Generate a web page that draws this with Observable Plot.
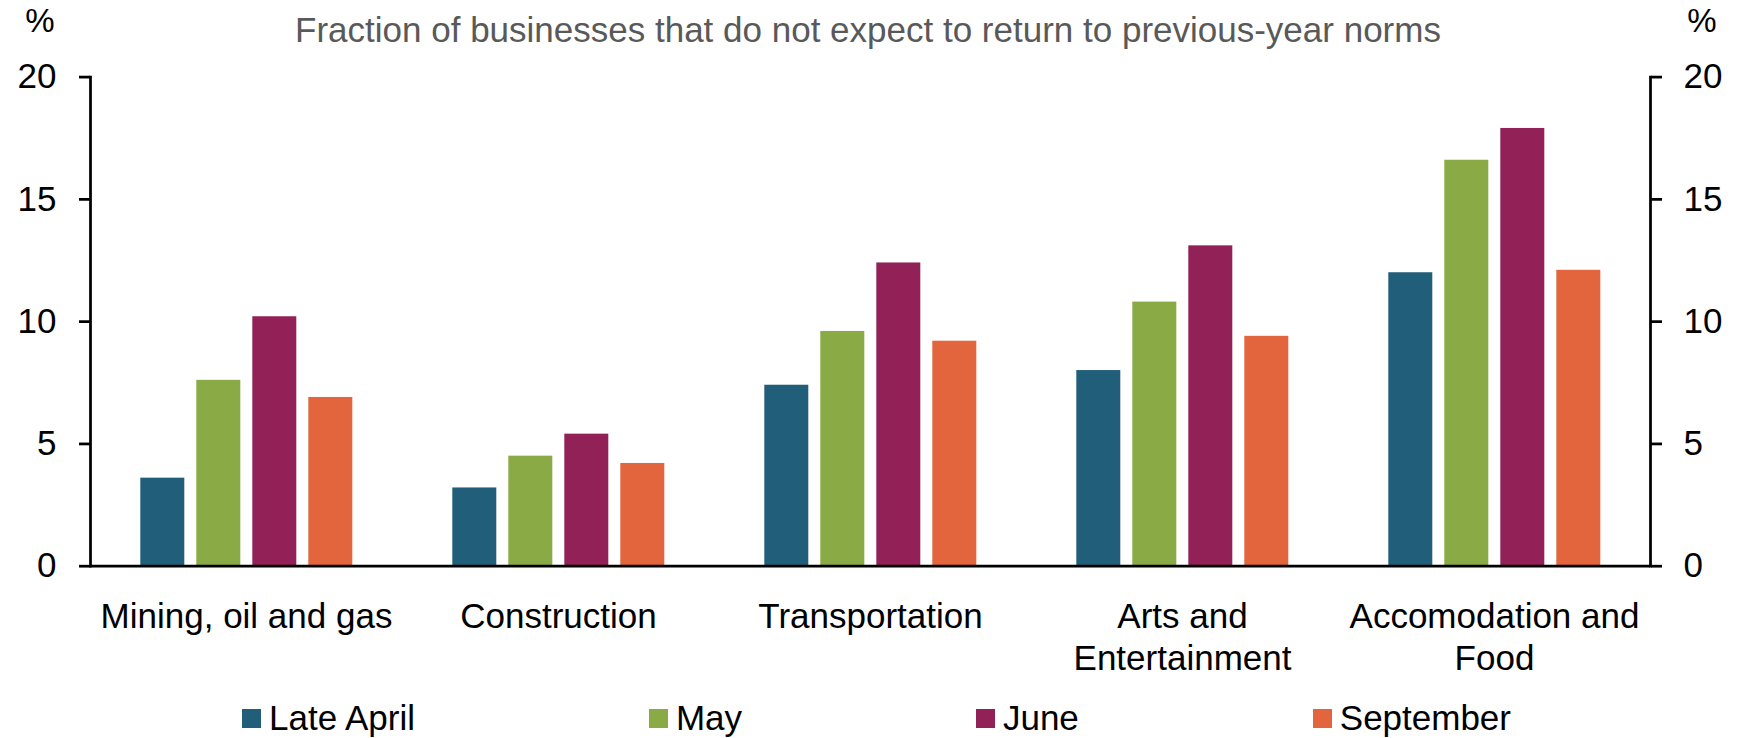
<!DOCTYPE html>
<html><head><meta charset="utf-8">
<script src="https://cdn.jsdelivr.net/npm/d3@7"></script>
<script src="https://cdn.jsdelivr.net/npm/@observablehq/plot@0.6"></script>
<style>
html,body{margin:0;padding:0;background:#fff;}
#wrap{position:relative;width:1743px;height:738px;overflow:hidden;font-family:"Liberation Sans",Arial,sans-serif;}
#title{position:absolute;left:0;width:1736px;top:12px;text-align:center;font-size:35px;line-height:35px;color:#595959;white-space:nowrap;}
.pct{position:absolute;top:4px;font-size:33px;line-height:33px;width:60px;text-align:center;color:#000;}
#chart{position:absolute;left:0;top:0;}
#legend{position:absolute;left:242px;width:1269px;top:701px;height:34px;display:flex;justify-content:space-between;}
.item{display:flex;align-items:center;font-size:35px;line-height:34px;color:#000;white-space:nowrap;}
.sw{width:19px;height:19px;margin-right:8px;flex:none;}
</style></head>
<body>
<div id="wrap">
  <div id="chart"></div>
  <div id="title"></div>
  <div class="pct" id="pctL" style="left:10px"></div>
  <div class="pct" id="pctR" style="left:1672px"></div>
  <div id="legend"></div>
</div>
<script>
const categories = ["Mining, oil and gas", "Construction", "Transportation", "Arts and Entertainment", "Accomodation and Food"];
const categoryLabels = ["Mining, oil and gas", "Construction", "Transportation", "Arts and\nEntertainment", "Accomodation and\nFood"];
const series = ["Late April", "May", "June", "September"];
const lateApril = [3.6, 3.2, 7.4, 8.0, 12.0];
const may = [7.6, 4.5, 9.6, 10.8, 16.6];
const june = [10.2, 5.4, 12.4, 13.1, 17.9];
const september = [6.9, 4.2, 9.2, 9.4, 12.1];
const colors = ["#215E79", "#89AA44", "#912157", "#E2653E"];
const yTicks = [0, 5, 10, 15, 20];
const titleText = "Fraction of businesses that do not expect to return to previous-year norms";
const unitText = "%";

const values = [lateApril, may, june, september];
const data = series.flatMap((s, j) => categories.map((c, i) => ({category: c, series: s, value: values[j][i]})));
const labelOf = new Map(categories.map((c, i) => [c, categoryLabels[i]]));
const FONT = '"Liberation Sans", Arial, sans-serif';

const chart = Plot.plot({
  width: 1743,
  height: 738,
  marginTop: 76.6,
  marginBottom: 172.3,
  marginLeft: 87.7,
  marginRight: 91.3,
  style: {fontFamily: FONT, fontSize: "35px", color: "#000", background: "transparent"},
  fx: {domain: categories, padding: 0, label: null},
  x: {domain: series, paddingInner: 0.2116, paddingOuter: 0.863, axis: null},
  y: {domain: [0, 20], label: null},
  color: {domain: series, range: colors},
  marks: [
    Plot.barY(data, {fx: "category", x: "series", y: "value", fill: "series"}),
    Plot.ruleY([0], {stroke: "#000", strokeWidth: 2.75}),
    Plot.frame({anchor: "left", facetAnchor: "left", stroke: "#000", strokeWidth: 2.75}),
    Plot.frame({anchor: "right", facetAnchor: "right", stroke: "#000", strokeWidth: 2.75}),
    Plot.axisY({anchor: "left", ticks: yTicks, tickSize: 11, tickPadding: 23, strokeWidth: 2.75, label: null, fontSize: 35}),
    Plot.axisY({anchor: "right", ticks: yTicks, tickSize: 11, tickPadding: 22, strokeWidth: 2.75, label: null, fontSize: 35}),
    Plot.axisFx({anchor: "bottom", tickSize: 0, tickPadding: 32, tickFormat: c => labelOf.get(c), lineHeight: 1.2, label: null, fontSize: 35})
  ]
});
document.getElementById("chart").appendChild(chart);
document.getElementById("title").textContent = titleText;
document.getElementById("pctL").textContent = unitText;
document.getElementById("pctR").textContent = unitText;

const legend = document.getElementById("legend");
series.forEach((s, i) => {
  const item = document.createElement("div");
  item.className = "item";
  const sw = document.createElement("span");
  sw.className = "sw";
  sw.style.background = colors[i];
  const t = document.createElement("span");
  t.textContent = s;
  item.appendChild(sw);
  item.appendChild(t);
  legend.appendChild(item);
});
</script>
</body></html>
